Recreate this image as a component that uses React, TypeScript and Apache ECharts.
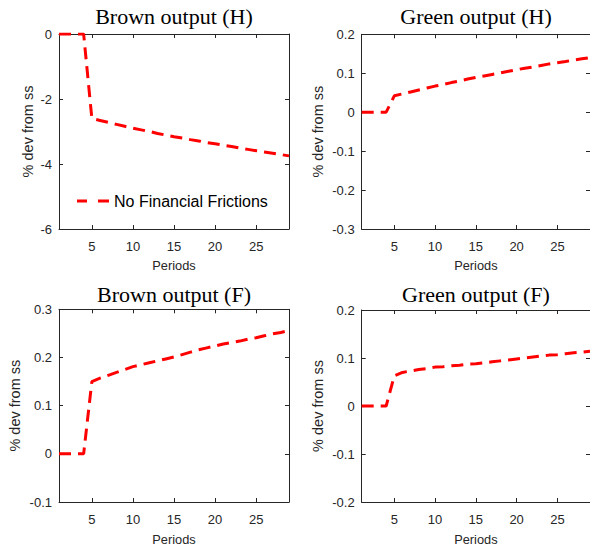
import React, { useEffect, useRef } from "react";
import * as echarts from "echarts";

const periods: number[] = [1, 2, 3, 4, 5, 6, 7, 8, 9, 10, 11, 12, 13, 14, 15, 16, 17, 18, 19, 20, 21, 22, 23, 24, 25, 26, 27, 28, 29];
const xTickValues: number[] = [5, 10, 15, 20, 25];

const brownH: number[] = [0, 0, 0, 0, -2.6, -2.66, -2.72, -2.78, -2.84, -2.9, -2.95, -3.0, -3.06, -3.11, -3.16, -3.2, -3.25, -3.29, -3.34, -3.38, -3.42, -3.46, -3.51, -3.55, -3.59, -3.63, -3.67, -3.71, -3.75];
const greenH: number[] = [0, 0, 0, 0, 0.042, 0.047, 0.052, 0.057, 0.062, 0.067, 0.071, 0.076, 0.08, 0.085, 0.089, 0.093, 0.097, 0.101, 0.105, 0.109, 0.113, 0.116, 0.12, 0.124, 0.127, 0.13, 0.134, 0.137, 0.14];
const brownF: number[] = [0, 0, 0, 0, 0.15, 0.157, 0.163, 0.169, 0.175, 0.181, 0.185, 0.189, 0.193, 0.197, 0.201, 0.206, 0.211, 0.216, 0.22, 0.224, 0.228, 0.231, 0.234, 0.238, 0.241, 0.245, 0.249, 0.252, 0.256];
const greenF: number[] = [0, 0, 0, 0, 0.063, 0.07, 0.073, 0.076, 0.078, 0.081, 0.082, 0.084, 0.085, 0.087, 0.088, 0.09, 0.092, 0.094, 0.096, 0.098, 0.1, 0.102, 0.104, 0.106, 0.107, 0.109, 0.111, 0.112, 0.114];

const titles: string[] = ["Brown output (H)", "Green output (H)", "Brown output (F)", "Green output (F)"];
const seriesName = "No Financial Frictions";
const yAxisName = "% dev from ss";
const xAxisName = "Periods";

const yRanges: { min: number; max: number; interval: number }[] = [
  { min: -6, max: 0, interval: 2 },
  { min: -0.3, max: 0.2, interval: 0.1 },
  { min: -0.1, max: 0.3, interval: 0.1 },
  { min: -0.2, max: 0.2, interval: 0.1 },
];

const panelData: number[][] = [brownH, greenH, brownF, greenF];

const INK = "#262626";
const SANS = "'Liberation Sans', Arial, Helvetica, sans-serif";
const SERIF = "'Liberation Serif', 'Times New Roman', serif";

const grids = [
  { left: 59, top: 34, width: 230, height: 195, yGap: 23.5, xGap: 30 },
  { left: 361.7, top: 34.3, width: 230.6, height: 194.7, yGap: 36.5, xGap: 30 },
  { left: 59, top: 309.3, width: 230, height: 194, yGap: 37, xGap: 31 },
  { left: 361.7, top: 310, width: 230.6, height: 193.3, yGap: 36.5, xGap: 31 },
];

const titlePos = [
  { x: 174, y: 16 },
  { x: 476, y: 16 },
  { x: 174, y: 294 },
  { x: 476, y: 294 },
];

export default function App() {
  const ref = useRef<HTMLDivElement>(null);

  useEffect(() => {
    if (!ref.current) return;
    const chart = echarts.init(ref.current, undefined, { renderer: "svg" });

    const lineStyle = { color: INK, width: 1 };
    const xAxes: any[] = [];
    const yAxes: any[] = [];
    const series: any[] = [];

    grids.forEach((g, i) => {
      xAxes.push({
        type: "value",
        gridIndex: i,
        position: "bottom",
        min: 1,
        max: 29,
        name: xAxisName,
        nameLocation: "middle",
        nameGap: g.xGap,
        nameTextStyle: { color: INK, fontSize: 12.8, fontFamily: SANS },
        axisLine: { show: true, onZero: false, lineStyle },
        axisTick: { show: true, inside: true, length: 4, lineStyle, customValues: xTickValues },
        axisLabel: { show: true, color: INK, fontSize: 13, fontFamily: SANS, margin: 11, customValues: xTickValues },
        splitLine: { show: false },
      });
      xAxes.push({
        type: "value",
        gridIndex: i,
        position: "top",
        min: 1,
        max: 29,
        axisLine: { show: true, onZero: false, lineStyle },
        axisTick: { show: true, inside: true, length: 4, lineStyle, customValues: xTickValues },
        axisLabel: { show: false },
        splitLine: { show: false },
      });
      const r = yRanges[i];
      yAxes.push({
        type: "value",
        gridIndex: i,
        position: "left",
        min: r.min,
        max: r.max,
        interval: r.interval,
        name: yAxisName,
        nameLocation: "middle",
        nameGap: g.yGap,
        nameTextStyle: { color: INK, fontSize: 14.5, fontFamily: SANS },
        axisLine: { show: true, onZero: false, lineStyle },
        axisTick: { show: true, inside: true, length: 4, lineStyle },
        axisLabel: {
          show: true,
          color: INK,
          fontSize: 13,
          fontFamily: SANS,
          margin: 7,
          formatter: (v: number) => String(Math.round(v * 1000) / 1000),
        },
        splitLine: { show: false },
      });
      yAxes.push({
        type: "value",
        gridIndex: i,
        position: "right",
        min: r.min,
        max: r.max,
        interval: r.interval,
        axisLine: { show: true, onZero: false, lineStyle },
        axisTick: { show: true, inside: true, length: 4, lineStyle },
        axisLabel: { show: false },
        splitLine: { show: false },
      });
      series.push({
        type: "line",
        name: seriesName,
        xAxisIndex: 2 * i,
        yAxisIndex: 2 * i,
        data: periods.map((p, k) => [p, panelData[i][k]]),
        showSymbol: false,
        symbol: "none",
        lineStyle: { color: "#ff0000", width: 3, type: [12, 7] },
        itemStyle: { color: "#ff0000" },
      });
    });

    chart.setOption({
      animation: false,
      backgroundColor: "#ffffff",
      grid: grids.map((g) => ({ left: g.left, top: g.top, width: g.width, height: g.height, containLabel: false })),
      xAxis: xAxes,
      yAxis: yAxes,
      series,
      legend: {
        show: true,
        data: [{ name: seriesName, icon: "path://M0,0H10V3H0Z M21,0H32V3H21Z" }],
        left: 77,
        top: 193,
        padding: 0,
        itemWidth: 32,
        itemHeight: 3,
        itemGap: 5,
        textStyle: { color: "#000", fontSize: 16, fontFamily: SANS },
        itemStyle: { color: "#ff0000", borderWidth: 0 },
        selectedMode: false,
      },
      graphic: titles.map((t, i) => ({
        type: "text",
        x: titlePos[i].x,
        y: titlePos[i].y,
        style: {
          text: t,
          fill: "#000",
          fontSize: 22,
          fontFamily: SERIF,
          align: "center",
          verticalAlign: "middle",
        },
      })),
    });

    return () => {
      chart.dispose();
    };
  }, []);

  return (
    <div
      ref={ref}
      style={{ position: "absolute", left: 0, top: 0, width: 590, height: 547, background: "#fff" }}
    />
  );
}
